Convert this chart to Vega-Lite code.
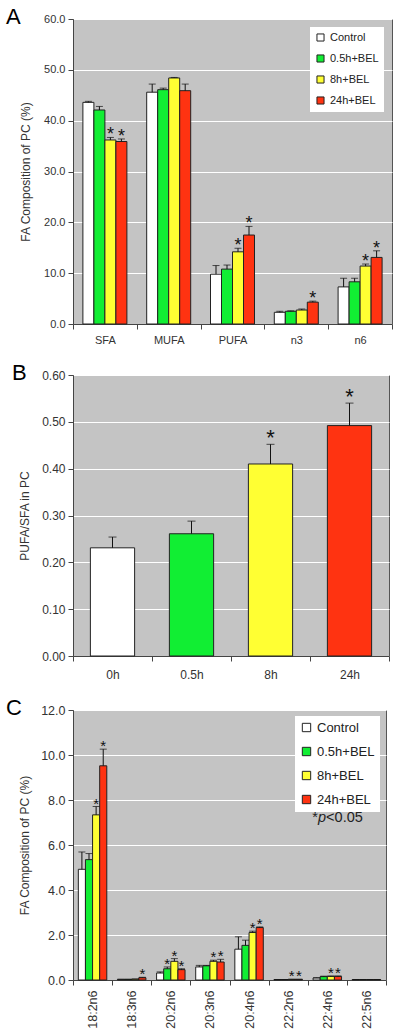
{
  "$schema": "https://vega.github.io/schema/vega-lite/v6.json",
  "background": "white",
  "padding": 5,
  "spacing": 15,
  "resolve": {"scale": {"fill": "independent", "x": "independent", "y": "independent", "xOffset": "independent"}, "legend": {"fill": "independent"}},
  "config": {
    "font": "Liberation Sans",
    "view": {"fill": "#c4c4c4", "stroke": "#555555", "strokeWidth": 1},
    "axis": {"labelFont": "Liberation Sans", "titleFont": "Liberation Sans", "labelColor": "#333333", "titleColor": "#333333", "titleFontWeight": "normal", "domainColor": "#444444", "tickColor": "#444444", "tickSize": 5, "gridColor": "#ffffff", "gridOpacity": 1, "gridWidth": 1, "labelPadding": 3},
    "axisX": {"grid": false},
    "legend": {"labelFont": "Liberation Sans", "labelColor": "#222222"},
    "title": {"font": "Liberation Sans", "fontWeight": "normal", "color": "#000000", "anchor": "start", "frame": "group", "baseline": "alphabetic", "fontSize": 22, "offset": -16}
  },
  "datasets": {
    "A": [
      {"cat": "SFA", "trt": "Control", "mean": 43.6, "upper": 43.8, "sig": false},
      {"cat": "SFA", "trt": "0.5h+BEL", "mean": 42.1, "upper": 42.8, "sig": false},
      {"cat": "SFA", "trt": "8h+BEL", "mean": 36.2, "upper": 36.7, "sig": true},
      {"cat": "SFA", "trt": "24h+BEL", "mean": 35.9, "upper": 36.4, "sig": true},
      {"cat": "MUFA", "trt": "Control", "mean": 45.6, "upper": 47.2, "sig": false},
      {"cat": "MUFA", "trt": "0.5h+BEL", "mean": 46.1, "upper": 46.4, "sig": false},
      {"cat": "MUFA", "trt": "8h+BEL", "mean": 48.4, "upper": 48.5, "sig": false},
      {"cat": "MUFA", "trt": "24h+BEL", "mean": 45.9, "upper": 47.2, "sig": false},
      {"cat": "PUFA", "trt": "Control", "mean": 9.8, "upper": 11.5, "sig": false},
      {"cat": "PUFA", "trt": "0.5h+BEL", "mean": 10.8, "upper": 11.6, "sig": false},
      {"cat": "PUFA", "trt": "8h+BEL", "mean": 14.2, "upper": 14.9, "sig": true},
      {"cat": "PUFA", "trt": "24h+BEL", "mean": 17.5, "upper": 19.2, "sig": true},
      {"cat": "n3", "trt": "Control", "mean": 2.3, "upper": 2.5, "sig": false},
      {"cat": "n3", "trt": "0.5h+BEL", "mean": 2.5, "upper": 2.6, "sig": false},
      {"cat": "n3", "trt": "8h+BEL", "mean": 2.75, "upper": 2.95, "sig": false},
      {"cat": "n3", "trt": "24h+BEL", "mean": 4.3, "upper": 4.5, "sig": true},
      {"cat": "n6", "trt": "Control", "mean": 7.3, "upper": 9.0, "sig": false},
      {"cat": "n6", "trt": "0.5h+BEL", "mean": 8.3, "upper": 9.0, "sig": false},
      {"cat": "n6", "trt": "8h+BEL", "mean": 11.4, "upper": 11.8, "sig": true},
      {"cat": "n6", "trt": "24h+BEL", "mean": 13.1, "upper": 14.4, "sig": true}
    ],
    "B": [
      {"time": "0h", "mean": 0.231, "upper": 0.254, "sig": false},
      {"time": "0.5h", "mean": 0.261, "upper": 0.288, "sig": false},
      {"time": "8h", "mean": 0.41, "upper": 0.452, "sig": true},
      {"time": "24h", "mean": 0.492, "upper": 0.54, "sig": true}
    ],
    "C": [
      {"fa": "18:2n6", "trt": "Control", "mean": 4.92, "upper": 5.69, "sig": false},
      {"fa": "18:2n6", "trt": "0.5h+BEL", "mean": 5.35, "upper": 5.62, "sig": false},
      {"fa": "18:2n6", "trt": "8h+BEL", "mean": 7.34, "upper": 7.71, "sig": true},
      {"fa": "18:2n6", "trt": "24h+BEL", "mean": 9.52, "upper": 10.26, "sig": true},
      {"fa": "18:3n6", "trt": "Control", "mean": 0.03, "upper": 0.03, "sig": false},
      {"fa": "18:3n6", "trt": "0.5h+BEL", "mean": 0.03, "upper": 0.03, "sig": false},
      {"fa": "18:3n6", "trt": "8h+BEL", "mean": 0.04, "upper": 0.04, "sig": false},
      {"fa": "18:3n6", "trt": "24h+BEL", "mean": 0.1, "upper": 0.12, "sig": true},
      {"fa": "20:2n6", "trt": "Control", "mean": 0.31, "upper": 0.36, "sig": false},
      {"fa": "20:2n6", "trt": "0.5h+BEL", "mean": 0.5, "upper": 0.58, "sig": true},
      {"fa": "20:2n6", "trt": "8h+BEL", "mean": 0.83, "upper": 0.95, "sig": true},
      {"fa": "20:2n6", "trt": "24h+BEL", "mean": 0.46, "upper": 0.5, "sig": true},
      {"fa": "20:3n6", "trt": "Control", "mean": 0.58, "upper": 0.65, "sig": false},
      {"fa": "20:3n6", "trt": "0.5h+BEL", "mean": 0.63, "upper": 0.65, "sig": false},
      {"fa": "20:3n6", "trt": "8h+BEL", "mean": 0.83, "upper": 0.88, "sig": true},
      {"fa": "20:3n6", "trt": "24h+BEL", "mean": 0.8, "upper": 0.92, "sig": true},
      {"fa": "20:4n6", "trt": "Control", "mean": 1.37, "upper": 1.92, "sig": false},
      {"fa": "20:4n6", "trt": "0.5h+BEL", "mean": 1.54, "upper": 1.77, "sig": false},
      {"fa": "20:4n6", "trt": "8h+BEL", "mean": 2.11, "upper": 2.17, "sig": true},
      {"fa": "20:4n6", "trt": "24h+BEL", "mean": 2.33, "upper": 2.36, "sig": true},
      {"fa": "22:2n6", "trt": "Control", "mean": 0.02, "upper": 0.02, "sig": false},
      {"fa": "22:2n6", "trt": "0.5h+BEL", "mean": 0.02, "upper": 0.02, "sig": false},
      {"fa": "22:2n6", "trt": "8h+BEL", "mean": 0.03, "upper": 0.03, "sig": true},
      {"fa": "22:2n6", "trt": "24h+BEL", "mean": 0.03, "upper": 0.03, "sig": true},
      {"fa": "22:4n6", "trt": "Control", "mean": 0.09, "upper": 0.1, "sig": false},
      {"fa": "22:4n6", "trt": "0.5h+BEL", "mean": 0.15, "upper": 0.17, "sig": false},
      {"fa": "22:4n6", "trt": "8h+BEL", "mean": 0.16, "upper": 0.18, "sig": true},
      {"fa": "22:4n6", "trt": "24h+BEL", "mean": 0.16, "upper": 0.18, "sig": true},
      {"fa": "22:5n6", "trt": "Control", "mean": 0.02, "upper": 0.02, "sig": false},
      {"fa": "22:5n6", "trt": "0.5h+BEL", "mean": 0.02, "upper": 0.02, "sig": false},
      {"fa": "22:5n6", "trt": "8h+BEL", "mean": 0.02, "upper": 0.02, "sig": false},
      {"fa": "22:5n6", "trt": "24h+BEL", "mean": 0.02, "upper": 0.02, "sig": false}
    ],
    "note": [
      {"fa": "22:4n6", "y": 7.2, "star": "*", "p": "p", "rest": "<0.05"}
    ]
  },
  "vconcat": [
    {
      "width": 319,
      "height": 305,
      "title": {"text": "A", "dx": -67},
      "data": {"name": "A"},
      "encoding": {
        "x": {"field": "cat", "type": "nominal", "scale": {"domain": ["SFA", "MUFA", "PUFA", "n3", "n6"], "paddingInner": 0, "paddingOuter": 0}, "axis": {"title": null, "labelAngle": 0, "tickBand": "extent", "labelFontSize": 11, "labelPadding": 5}},
        "xOffset": {"field": "trt", "type": "nominal", "scale": {"domain": ["Control", "0.5h+BEL", "8h+BEL", "24h+BEL"], "paddingInner": 0, "paddingOuter": 0.9}}
      },
      "layer": [
        {
          "mark": {"type": "bar", "stroke": "#222222", "strokeWidth": 1},
          "encoding": {
            "y": {"field": "mean", "type": "quantitative", "title": "FA Composition of PC (%)", "scale": {"domain": [0, 60]}, "axis": {"values": [0, 10, 20, 30, 40, 50, 60], "format": ".1f", "titleFontSize": 12, "labelFontSize": 11, "titlePadding": 11}},
            "fill": {"field": "trt", "type": "nominal", "scale": {"domain": ["Control", "0.5h+BEL", "8h+BEL", "24h+BEL"], "range": ["#ffffff", "#11ee33", "#ffff33", "#ff3311"]}, "legend": {"title": null, "orient": "top-right", "offset": 8, "fillColor": "#ffffff", "symbolType": "square", "symbolSize": 50, "symbolStrokeColor": "#222222", "symbolStrokeWidth": 1, "labelFontSize": 11, "padding": 5, "rowPadding": 8, "labelOffset": 4}}
          }
        },
        {
          "mark": {"type": "rule", "color": "#111111"},
          "encoding": {"y": {"field": "mean", "type": "quantitative", "title": "FA Composition of PC (%)", "scale": {"domain": [0, 60]}}, "y2": {"field": "upper"}}
        },
        {
          "mark": {"type": "tick", "color": "#111111", "thickness": 1, "size": 7},
          "encoding": {"y": {"field": "upper", "type": "quantitative", "title": "FA Composition of PC (%)", "scale": {"domain": [0, 60]}}}
        },
        {
          "transform": [{"filter": "datum.sig"}],
          "mark": {"type": "text", "text": "*", "fontSize": 18, "baseline": "alphabetic", "dy": 3, "color": "#111111"},
          "encoding": {"y": {"field": "upper", "type": "quantitative", "title": "FA Composition of PC (%)", "scale": {"domain": [0, 60]}}}
        }
      ]
    },
    {
      "width": 316,
      "height": 281,
      "title": {"text": "B", "dx": -61},
      "data": {"name": "B"},
      "encoding": {
        "x": {"field": "time", "type": "nominal", "scale": {"domain": ["0h", "0.5h", "8h", "24h"], "paddingInner": 0, "paddingOuter": 0}, "axis": {"title": null, "labelAngle": 0, "tickBand": "extent", "labelFontSize": 12, "labelPadding": 8}}
      },
      "layer": [
        {
          "mark": {"type": "bar", "stroke": "#222222", "strokeWidth": 1, "width": {"band": 0.56}},
          "encoding": {
            "y": {"field": "mean", "type": "quantitative", "title": "PUFA/SFA in PC", "scale": {"domain": [0, 0.6]}, "axis": {"values": [0, 0.1, 0.2, 0.3, 0.4, 0.5, 0.6], "format": ".2f", "titleFontSize": 12, "labelFontSize": 12, "titlePadding": 10}},
            "fill": {"field": "time", "type": "nominal", "scale": {"domain": ["0h", "0.5h", "8h", "24h"], "range": ["#ffffff", "#11ee33", "#ffff33", "#ff3311"]}, "legend": null}
          }
        },
        {
          "mark": {"type": "rule", "color": "#111111"},
          "encoding": {"y": {"field": "mean", "type": "quantitative", "title": "PUFA/SFA in PC", "scale": {"domain": [0, 0.6]}}, "y2": {"field": "upper"}}
        },
        {
          "mark": {"type": "tick", "color": "#111111", "thickness": 1, "size": 8},
          "encoding": {"y": {"field": "upper", "type": "quantitative", "title": "PUFA/SFA in PC", "scale": {"domain": [0, 0.6]}}}
        },
        {
          "transform": [{"filter": "datum.sig"}],
          "mark": {"type": "text", "text": "*", "fontSize": 22, "baseline": "alphabetic", "dy": 1, "color": "#111111"},
          "encoding": {"y": {"field": "upper", "type": "quantitative", "title": "PUFA/SFA in PC", "scale": {"domain": [0, 0.6]}}}
        }
      ]
    },
    {
      "width": 313,
      "height": 270,
      "title": {"text": "C", "dx": -67},
      "layer": [
        {
          "data": {"name": "C"},
          "encoding": {
            "x": {"field": "fa", "type": "nominal", "scale": {"domain": ["18:2n6", "18:3n6", "20:2n6", "20:3n6", "20:4n6", "22:2n6", "22:4n6", "22:5n6"], "paddingInner": 0, "paddingOuter": 0}, "axis": {"title": null, "labelAngle": -90, "tickBand": "extent", "labelFontSize": 12.5, "labelPadding": 5}},
            "xOffset": {"field": "trt", "type": "nominal", "scale": {"domain": ["Control", "0.5h+BEL", "8h+BEL", "24h+BEL"], "paddingInner": 0, "paddingOuter": 0.75}}
          },
          "layer": [
            {
              "mark": {"type": "bar", "stroke": "#222222", "strokeWidth": 1},
              "encoding": {
                "y": {"field": "mean", "type": "quantitative", "title": "FA Composition of PC (%)", "scale": {"domain": [0, 12]}, "axis": {"values": [0, 2, 4, 6, 8, 10, 12], "format": ".1f", "titleFontSize": 12, "labelFontSize": 12.5, "titlePadding": 9}},
                "fill": {"field": "trt", "type": "nominal", "scale": {"domain": ["Control", "0.5h+BEL", "8h+BEL", "24h+BEL"], "range": ["#ffffff", "#11ee33", "#ffff33", "#ff3311"]}, "legend": {"title": null, "orient": "top-right", "offset": 6, "fillColor": "#ffffff", "symbolType": "square", "symbolSize": 70, "symbolStrokeColor": "#222222", "symbolStrokeWidth": 1, "labelFontSize": 13, "padding": 5, "rowPadding": 10, "labelOffset": 4}}
              }
            },
            {
              "mark": {"type": "rule", "color": "#111111"},
              "encoding": {"y": {"field": "mean", "type": "quantitative", "title": "FA Composition of PC (%)", "scale": {"domain": [0, 12]}}, "y2": {"field": "upper"}}
            },
            {
              "mark": {"type": "tick", "color": "#111111", "thickness": 1, "size": 7},
              "encoding": {"y": {"field": "upper", "type": "quantitative", "title": "FA Composition of PC (%)", "scale": {"domain": [0, 12]}}}
            },
            {
              "transform": [{"filter": "datum.sig"}],
              "mark": {"type": "text", "text": "*", "fontSize": 15, "baseline": "alphabetic", "dy": 2, "color": "#111111"},
              "encoding": {"y": {"field": "upper", "type": "quantitative", "title": "FA Composition of PC (%)", "scale": {"domain": [0, 12]}}}
            }
          ]
        },
        {
          "data": {"name": "note"},
          "encoding": {
            "x": {"field": "fa", "type": "nominal"},
            "y": {"field": "y", "type": "quantitative", "title": "FA Composition of PC (%)", "scale": {"domain": [0, 12]}}
          },
          "layer": [
            {
              "mark": {"type": "text", "fontSize": 14.5, "color": "#222222", "align": "left", "baseline": "middle", "dx": -15},
              "encoding": {"text": {"field": "star"}}
            },
            {
              "mark": {"type": "text", "fontSize": 14.5, "fontStyle": "italic", "color": "#222222", "align": "left", "baseline": "middle", "dx": -9.4},
              "encoding": {"text": {"field": "p"}}
            },
            {
              "mark": {"type": "text", "fontSize": 14.5, "color": "#222222", "align": "left", "baseline": "middle", "dx": -1.2},
              "encoding": {"text": {"field": "rest"}}
            }
          ]
        }
      ]
    }
  ]
}
